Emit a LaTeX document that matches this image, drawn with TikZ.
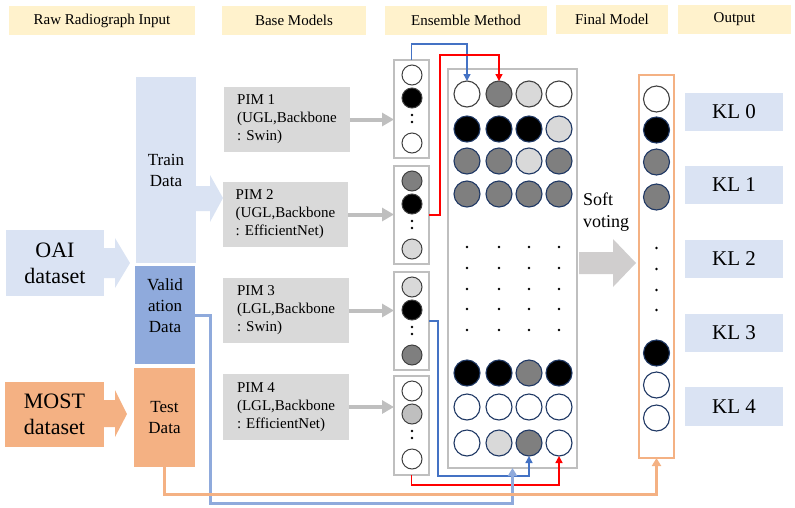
\documentclass[tikz,border=0pt]{standalone}
\usepackage{fontspec}
\setmainfont{Liberation Serif}
\usetikzlibrary{arrows.meta,calc}
\definecolor{hdr}{HTML}{FFF2CC}
\definecolor{lblue}{HTML}{DAE3F3}
\definecolor{mblue}{HTML}{8FAADC}
\definecolor{orng}{HTML}{F4B183}
\definecolor{pimg}{HTML}{D9D9D9}
\definecolor{arrg}{HTML}{BFBFBF}
\definecolor{softg}{HTML}{D0CECE}
\definecolor{dkg}{HTML}{7F7F7F}
\definecolor{ltg}{HTML}{D9D9D9}
\definecolor{mdg}{HTML}{BFBFBF}
\definecolor{navy}{HTML}{1F3864}
\definecolor{cbord}{HTML}{404040}
\definecolor{bl}{HTML}{4472C4}
\definecolor{rd}{HTML}{FF0000}
\newcommand\bx[7]{\node[#6, minimum width={(#4-#2)*1pt}, minimum height={(#5-#3)*1pt}] (#1) at ({(#2+#4)/2},{(#3+#5)/2}) {#7};}
\tikzset{
  base/.style={inner sep=0pt, outer sep=0pt, rectangle},
  hdrbox/.style={base, fill=hdr, font=\fontsize{15}{18}\selectfont},
  klbox/.style={base, fill=lblue, font=\fontsize{21}{25}\selectfont},
  pimbox/.style={base, fill=pimg, align=left, font=\fontsize{15}{18}\selectfont},
  databox/.style={base, align=center, font=\fontsize{17}{21}\selectfont},
  dsbox/.style={base, align=center, font=\fontsize{22}{26}\selectfont},
  colbox/.style={base, draw=arrg, line width=1.3pt, fill=white},
  ccirc/.style={circle, inner sep=0pt, outer sep=0pt, minimum size=20pt, draw=cbord, line width=1pt},
  mcirc/.style={circle, inner sep=0pt, outer sep=0pt, minimum size=26pt, line width=1.1pt},
  dotn/.style={circle, fill=black, inner sep=0pt, minimum size=2.6pt},
  grayarr/.style={draw=arrg, line width=4pt, -{Triangle[length=12pt,width=13pt]}},
  thinarr/.style={line width=1.4pt, -{Triangle[length=7pt,width=7pt]}},
  thickarr/.style={line width=3pt, -{Triangle[length=8pt,width=9pt]}},
}
\begin{document}
\begin{tikzpicture}[x=1pt,y=-1pt]
\useasboundingbox (0,0) rectangle (795,507);
% headers
\bx{h1}{9}{6}{195}{35}{hdrbox}{Raw Radiograph Input}
\bx{h2}{222}{6}{366}{35}{hdrbox}{Base Models}
\bx{h3}{385}{6}{547}{35}{hdrbox}{Ensemble Method}
\bx{h4}{556}{5}{668}{34}{hdrbox}{Final Model}
\bx{h5}{678}{5}{791}{34}{hdrbox}{Output}
% datasets
\fill[lblue] (104,248) -- (115,248) -- (115,238) -- (130,263) -- (115,288) -- (115,278) -- (104,278) -- cycle;
\bx{oai}{6}{230}{104}{296}{dsbox, fill=lblue}{OAI\\dataset}
\fill[orng] (104,400) -- (115,400) -- (115,390) -- (127,414) -- (115,437) -- (115,427) -- (104,427) -- cycle;
\bx{most}{5}{382}{104}{447}{dsbox, fill=orng}{MOST\\dataset}
% data splits
\fill[lblue] (196,186) -- (210,186) -- (210,175) -- (223,198) -- (210,222) -- (210,211) -- (196,211) -- cycle;
\bx{train}{136}{77}{196}{263}{databox, fill=lblue}{Train\\Data}
\bx{val}{135}{266}{195}{364}{databox, fill=mblue}{}
\node[databox] (valt) at (165,306) {Valid\\ation\\Data};
\bx{test}{134}{368}{195}{467}{databox, fill=orng}{Test\\Data}
% PIM boxes
\bx{pim1}{224}{87}{350}{152}{pimbox}{PIM 1\\(UGL,Backbone\\: Swin)}
\bx{pim2}{223}{182}{348}{247}{pimbox}{PIM 2\\(UGL,Backbone\\: EfficientNet)}
\bx{pim3}{223}{278}{349}{343}{pimbox}{PIM 3\\(LGL,Backbone\\: Swin)}
\bx{pim4}{223}{374}{349}{440}{pimbox}{PIM 4\\(LGL,Backbone\\: EfficientNet)}
% column boxes
\bx{col1}{394}{60}{429}{158}{colbox}{}
\bx{col2}{394}{166}{429}{264}{colbox}{}
\bx{col3}{394}{272}{429}{370}{colbox}{}
\bx{col4}{394}{376}{429}{475}{colbox}{}
\foreach \c/\t/\fa/\fb/\fc in {1/60/white/black/white, 2/166/dkg/black/ltg, 3/272/ltg/black/dkg, 4/376/white/mdg/white}{
  \node[ccirc, fill=\fa] (c\c a) at (412,\t+15) {};
  \node[ccirc, fill=\fb] (c\c b) at (412,\t+38) {};
  \node[dotn] (c\c d1) at (412,\t+55) {};
  \node[dotn] (c\c d2) at (412,\t+62) {};
  \node[ccirc, fill=\fc] (c\c c) at (412,\t+83) {};
}
% gray arrows
\foreach \i in {1,2,3,4}{
  \draw[grayarr] (pim\i.east) -- (pim\i.east -| col\i.west);
}
% ensemble box
\bx{ens}{448}{69}{577}{468}{colbox}{}
\foreach \r/\y/\bc/\fa/\fb/\fc/\fd in {1/94/cbord/white/dkg/ltg/white, 2/129/navy/black/black/black/ltg, 3/161/navy/dkg/dkg/ltg/dkg, 4/194/navy/dkg/dkg/dkg/dkg, 5/373/navy/black/black/dkg/black, 6/407/navy/white/white/white/white, 7/443/navy/white/ltg/dkg/white}{
  \node[mcirc, draw=\bc, fill=\fa] (m\r1) at (467,\y) {};
  \node[mcirc, draw=\bc, fill=\fb] (m\r2) at (499,\y) {};
  \node[mcirc, draw=\bc, fill=\fc] (m\r3) at (529,\y) {};
  \node[mcirc, draw=\bc, fill=\fd] (m\r4) at (559,\y) {};
}
\foreach \y [count=\j] in {247,268,289,309,330}{
  \foreach \x [count=\k] in {467,499,529,559}{
    \node[dotn] (md\j\k) at (\x,\y) {};
  }
}
% soft voting
\fill[softg] (579,252) -- (613,252) -- (613,239) -- (636,263) -- (613,287) -- (613,274) -- (579,274) -- cycle;
\node[base, align=left, anchor=north west, font=\fontsize{18}{22}\selectfont] (sv) at (583,193) {Soft\\voting};
% final model
\bx{final}{639}{75}{674}{458}{base, draw=orng, line width=1.5pt, fill=white}{}
\foreach \y/\bc/\f [count=\i] in {99/cbord/white, 130/navy/black, 162/navy/dkg, 197/navy/dkg, 353/navy/black, 385/navy/white, 418/navy/white}{
  \node[mcirc, draw=\bc, fill=\f] (f\i) at (656.5,\y) {};
}
\foreach \y [count=\i] in {248,269,290,310}{
  \node[dotn] (fd\i) at (656.5,\y) {};
}
% KL boxes
\bx{kl0}{685}{93}{783}{131}{klbox}{KL 0}
\bx{kl1}{685}{166}{783}{204}{klbox}{KL 1}
\bx{kl2}{685}{240}{783}{278}{klbox}{KL 2}
\bx{kl3}{685}{314}{783}{352}{klbox}{KL 3}
\bx{kl4}{685}{387}{783}{426}{klbox}{KL 4}
% connectors
\draw[thinarr, draw=bl] (col1.north) -- ++(0,-16) -| (m11.north);
\draw[thinarr, draw=rd] (col2.east) -- ++(11,0) |- ($(m12.north)+(0,-26)$) -- (m12.north);
\draw[thinarr, draw=bl] (col3.east) -- ++(9,0) |- ($(m73.south)+(0,20)$) -- (m73.south);
\draw[thinarr, draw=rd] (col4.south) -- ++(0,10) -| (m74.south);
\draw[thickarr, draw=mblue] (val.east) -- ++(15,0) |- ($(ens.south)+(0,35)$) -- (ens.south);
\draw[thickarr, draw=orng] (test.south) -- ++(0,27) -| (final.south);
\end{tikzpicture}
\end{document}
